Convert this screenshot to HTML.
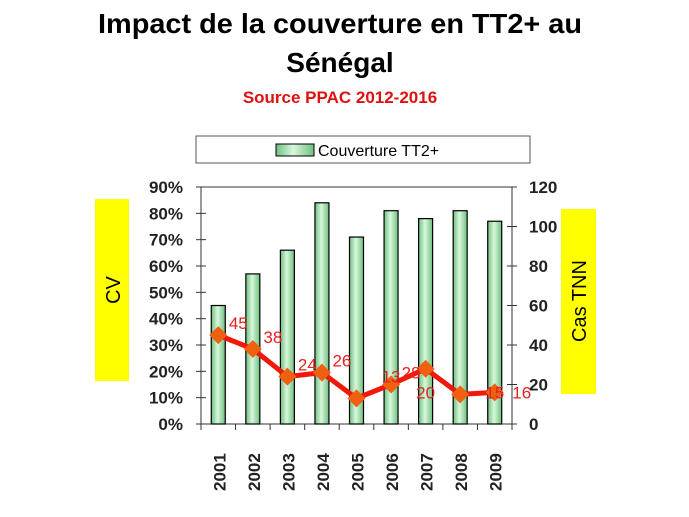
<!DOCTYPE html>
<html><head><meta charset="utf-8"><style>
html,body{margin:0;padding:0;background:#fff;width:689px;height:517px;overflow:hidden}
svg{display:block;font-family:"Liberation Sans",sans-serif}
</style></head><body>
<svg id="c" width="689" height="517" viewBox="0 0 689 517">
<defs>
<linearGradient id="bg" x1="0" x2="1" y1="0" y2="0">
<stop offset="0" stop-color="#6fbf7f"/><stop offset="0.45" stop-color="#d8f8dc"/><stop offset="1" stop-color="#6fbf7f"/>
</linearGradient>
</defs>
<text x="340" y="33" text-anchor="middle" font-size="28" font-weight="bold" textLength="484" lengthAdjust="spacingAndGlyphs">Impact de la couverture en TT2+ au</text>
<text x="340" y="72" text-anchor="middle" font-size="28" font-weight="bold">Sénégal</text>
<text x="340" y="103" text-anchor="middle" font-size="17" font-weight="bold" fill="#e01010">Source PPAC 2012-2016</text>
<rect x="196" y="136" width="334" height="27" fill="#fff" stroke="#555"/>
<rect x="276" y="144" width="38" height="12" fill="url(#bg)" stroke="#000"/>
<text x="318" y="156" font-size="16">Couverture TT2+</text>
<rect x="95" y="199" width="34" height="182" fill="#ffff00"/>
<text transform="translate(120,290) rotate(-90)" text-anchor="middle" font-size="20">CV</text>
<rect x="561" y="209" width="35" height="185" fill="#ffff00"/>
<text transform="translate(586,301) rotate(-90)" text-anchor="middle" font-size="20">Cas TNN</text>
<g id="plot"></g>
</svg>
<script>
const years=["2001","2002","2003","2004","2005","2006","2007","2008","2009"];
const coverage=[45,57,66,84,71,81,78,81,77];
const cases=[45,38,24,26,13,20,28,15,16];
const caseLabels=["45","38","24","26","13","20","28","15","16"];
const leftTicks=[0,10,20,30,40,50,60,70,80,90];
const rightTicks=[0,20,40,60,80,100,120];
const NS="http://www.w3.org/2000/svg";
const L=201,R=512,T=187,B=424;
const yL=v=>B-(v/90)*(B-T);
const yR=v=>B-(v/120)*(B-T);
const step=(R-L)/years.length;
const xC=i=>L+step*(i+0.5);
const g=document.getElementById('plot');
function mk(t,a,p){const e=document.createElementNS(NS,t);for(const k in a)e.setAttribute(k,a[k]);(p||g).appendChild(e);return e;}
let e=mk('rect',{x:L,y:T,width:R-L,height:B-T,fill:'#fff',stroke:'#333'});


leftTicks.forEach(v=>{
 const y=yL(v);
 mk('line',{x1:L-5,x2:L+5,y1:y,y2:y,stroke:'#333'});
 const t=mk('text',{x:183,y:y+6,'text-anchor':'end','font-size':17,'font-weight':'bold',fill:'#222'});t.textContent=v+'%';
 
 
});
rightTicks.forEach(v=>{
 const y=yR(v);
 mk('line',{x1:R-5,x2:R+5,y1:y,y2:y,stroke:'#333'});
 const t=mk('text',{x:529,y:y+6,'font-size':17,'font-weight':'bold',fill:'#222'});t.textContent=v;
 
 
});
years.forEach((yr,i)=>{
 const x0=L+step*i;
 mk('line',{x1:x0,x2:x0,y1:B,y2:B+6,stroke:'#333'});
 const b=mk('rect',{x:xC(i)-7,y:yL(coverage[i]),width:14,height:B-yL(coverage[i]),fill:'url(#bg)',stroke:'#000','stroke-width':1.2});
 
 
 const t=mk('text',{transform:`translate(${xC(i)+7},${491}) rotate(-90)`,'font-size':17,'font-weight':'bold',fill:'#222'});t.textContent=yr;
 
 
});
mk('line',{x1:R,x2:R,y1:B,y2:B+6,stroke:'#333'});
const pts=cases.map((v,i)=>xC(i)+','+yR(v)).join(' ');
const ln=mk('polyline',{points:pts,fill:'none',stroke:'#f01808','stroke-width':5,'stroke-linejoin':'round'});


cases.forEach((v,i)=>{
 const x=xC(i),y=yR(v);
 const m=mk('polygon',{points:`${x},${y-9} ${x+9},${y} ${x},${y+9} ${x-9},${y}`,fill:'#f06010'});
 
 
});
caseLabels.forEach((s,i)=>{
 let x=xC(i)+20,y=yR(cases[i])-6;
 if(i===5){x=xC(6);y=yR(cases[6])+30;}
 else if(i>5){x=xC(i-1)+20;y=yR(cases[i-1])-6;}
 if(i===4){x=xC(5);y=yR(cases[5])-2;}
 if(i===8){x=xC(8)+27;y=yR(cases[8])+6;}
 if(i===7){x=xC(8);y=yR(cases[8])+6;}
 const t=mk('text',{x:x,y:y,'text-anchor':'middle','font-size':17,fill:'#e82020'});t.textContent=s;
 
 
});
</script>
</body></html>
